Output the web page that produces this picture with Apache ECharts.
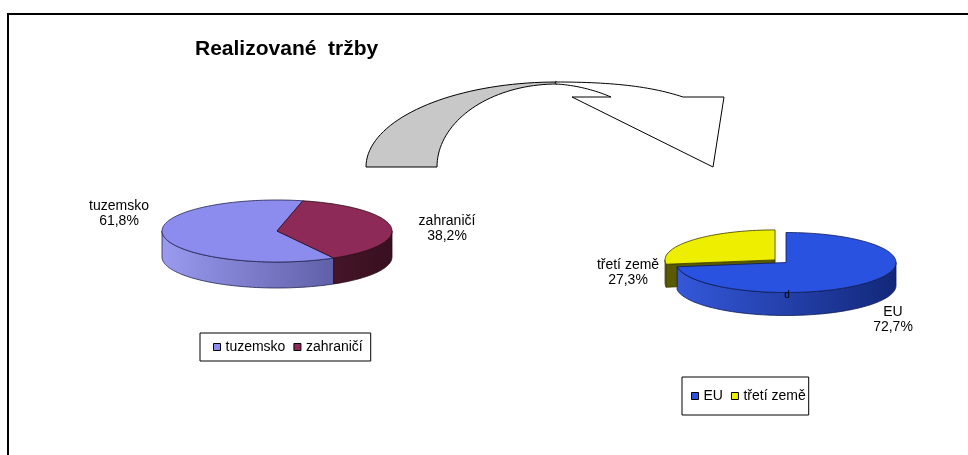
<!DOCTYPE html>
<html><head><meta charset="utf-8">
<script src="https://cdn.jsdelivr.net/npm/echarts@6/dist/echarts.min.js"></script>
<style>html,body{margin:0;padding:0;background:#fff}#c{width:968px;height:455px}</style>
</head><body><div id="c"></div>
<script>
// ---- data ----
const titleText = 'Realizované  tržby';
const domesticCategories = ['tuzemsko', 'zahraničí'];
const domesticValues = [61.8, 38.2];
const foreignCategories = ['EU', 'třetí země'];
const foreignValues = [72.7, 27.3];
const strayLabel = 'd';

// ---- layout / style ----
const FONT = '"Liberation Sans", Arial, sans-serif';
const leftPie = {
  x: 277, y: 231, rx: 115, ry: 31, depth: 26, startAngle: 150.5, explode: [0, 0], z: [2, 2],
  colors: [
    {top: '#8C8CEE', side: ['#9A9AF0', '#4C4C90'], line: '#23234f'},
    {top: '#8E2A57', side: ['#6a2040', '#38101f'], line: '#2a0a18'}
  ],
  labels: [{dx: -158, dy: -32}, {dx: 170, dy: -17}]
};
const rightPie = {
  x: 786, y: 262.5, rx: 110, ry: 30, depth: 23, startAngle: 0, explode: [0, 14.5], z: [3, 2],
  colors: [
    {top: '#2A52E0', side: ['#3458DA', '#13287A'], line: '#0d1a55'},
    {top: '#EEEE00', side: ['#7d7d00', '#5a5a00'], line: '#3a3a00'}
  ],
  labels: [{dx: 107, dy: 42}, {dx: -158, dy: -5}]
};

function rim(c, a, dy) {
  const r = a * Math.PI / 180;
  return [c.x + c.rx * Math.sin(r), c.y - c.ry * Math.cos(r) + (dy || 0)];
}
function arcPts(c, a0, a1, dy) {
  const n = Math.max(2, Math.ceil(Math.abs(a1 - a0) / 2));
  const pts = [];
  for (let k = 0; k <= n; k++) pts.push(rim(c, a0 + (a1 - a0) * k / n, dy));
  return pts;
}
function fmt(p) { return p.toFixed(1).replace('.', ',') + '%'; }

function renderSlice(api, P, i, name) {
  const v = api.value(0), s = api.value(1), tot = api.value(2);
  const a0 = P.startAngle + s / tot * 360, a1 = a0 + v / tot * 360;
  const mid = (a0 + a1) / 2 * Math.PI / 180;
  const e = P.explode[i];
  const c = {x: P.x + e * Math.sin(mid), y: P.y - e * Math.cos(mid) * P.ry / P.rx, rx: P.rx, ry: P.ry};
  const col = P.colors[i];
  const grad = new echarts.graphic.LinearGradient(P.x - P.rx, 0, P.x + P.rx, 0,
    [{offset: 0, color: col.side[0]}, {offset: 1, color: col.side[1]}], true);
  const children = [];
  if (e > 0) {
    [[a0, a0 - 90], [a1, a1 + 90]].forEach(([a, nrm]) => {
      if (Math.cos(nrm * Math.PI / 180) < -0.01) {
        const p = rim(c, a), pd = rim(c, a, P.depth);
        children.push({type: 'polygon', shape: {points: [[c.x, c.y], p, pd, [c.x, c.y + P.depth]]},
          style: {fill: col.side[1], stroke: col.line, lineWidth: 0.8}});
      }
    });
  }
  for (let k = -1; k <= 2; k++) {
    const lo = 90 + 360 * k, hi = 270 + 360 * k;
    const s0 = Math.max(a0, lo), s1 = Math.min(a1, hi);
    if (s0 < s1) {
      const pts = arcPts(c, s0, s1, 0).concat(arcPts(c, s1, s0, P.depth));
      children.push({type: 'polygon', shape: {points: pts}, style: {fill: grad, stroke: col.line, lineWidth: 0.8}});
    }
  }
  const topPts = [[c.x, c.y]].concat(arcPts(c, a0, a1, 0));
  children.push({type: 'polygon', shape: {points: topPts}, style: {fill: col.top, stroke: col.line, lineWidth: 0.8}});
  const L = P.labels[i];
  children.push({type: 'text', x: P.x + L.dx, y: P.y + L.dy,
    style: {text: name + '\n' + fmt(v / tot * 100), fill: '#000', font: '14px ' + FONT,
      align: 'center', verticalAlign: 'top', lineHeight: 15}});
  return {type: 'group', children};
}

function pieSeries(cats, vals, P) {
  const total = vals.reduce((a, b) => a + b, 0);
  let cum = 0;
  return cats.map((name, i) => {
    const start = cum; cum += vals[i];
    return {
      type: 'custom', name, coordinateSystem: 'none', z: P.z[i],
      itemStyle: {color: P.colors[i].top},
      data: [[vals[i], start, total]],
      renderItem: (params, api) => renderSlice(api, P, i, name),
      silent: true
    };
  });
}

// arrow helpers (decoration)
function ellArc(cx, cy, rx, ry, t0, t1, n) {
  const pts = [];
  for (let k = 0; k <= n; k++) { const t = (t0 + (t1 - t0) * k / n) * Math.PI / 180; pts.push([cx + rx * Math.cos(t), cy - ry * Math.sin(t)]); }
  return pts;
}
function bez(p0, p1, p2, p3, n) {
  const pts = [];
  for (let k = 0; k <= n; k++) {
    const t = k / n, u = 1 - t;
    pts.push([u*u*u*p0[0] + 3*u*u*t*p1[0] + 3*u*t*t*p2[0] + t*t*t*p3[0],
              u*u*u*p0[1] + 3*u*u*t*p1[1] + 3*u*t*t*p2[1] + t*t*t*p3[1]]);
  }
  return pts;
}
const arrowBack = ellArc(557, 167, 191, 85, 180, 90, 40).concat(ellArc(557, 167, 120, 83, 90, 180, 40));
const arrowFront = bez([555, 82], [610, 82], [650, 86], [683, 97], 30)
  .concat([[724, 97], [713, 167], [572, 97], [611, 97]])
  .concat(bez([611, 97], [595, 90], [575, 85], [556, 84], 20));

const legendCommon = {
  orient: 'horizontal', itemWidth: 7, itemHeight: 7, icon: 'rect', selectedMode: false,
  borderColor: '#000', borderWidth: 1, backgroundColor: '#fff',
  textStyle: {fontFamily: FONT, fontSize: 14, color: '#000'},
  itemStyle: {borderColor: '#000', borderWidth: 1}
};

const chart = echarts.init(document.getElementById('c'), null, {renderer: 'canvas'});
chart.setOption({
  animation: false,
  backgroundColor: '#fff',
  legend: [
    Object.assign({}, legendCommon, {data: domesticCategories, left: 200, top: 333, padding: [7, 8, 7, 13], itemGap: 8}),
    Object.assign({}, legendCommon, {data: foreignCategories, left: 682, top: 377, padding: [12, 3, 12, 9], itemGap: 8})
  ],
  graphic: [
    {type: 'rect', shape: {x: 8, y: 14, width: 1000, height: 500}, style: {fill: 'none', stroke: '#000', lineWidth: 2}, z: 1},
    {type: 'text', x: 195, y: 39, style: {text: titleText, font: 'bold 21px ' + FONT, fill: '#000'}, z: 5},
    {type: 'polygon', shape: {points: arrowBack}, style: {fill: '#C8C8C8', stroke: '#000', lineWidth: 1}, z: 5},
    {type: 'polygon', shape: {points: arrowFront}, style: {fill: '#fff', stroke: '#000', lineWidth: 1}, z: 5},
    {type: 'text', x: 787, y: 290, style: {text: strayLabel, font: '10px ' + FONT, fill: '#000', align: 'center'}, z: 10}
  ],
  series: pieSeries(domesticCategories, domesticValues, leftPie).concat(pieSeries(foreignCategories, foreignValues, rightPie))
});
</script></body></html>
